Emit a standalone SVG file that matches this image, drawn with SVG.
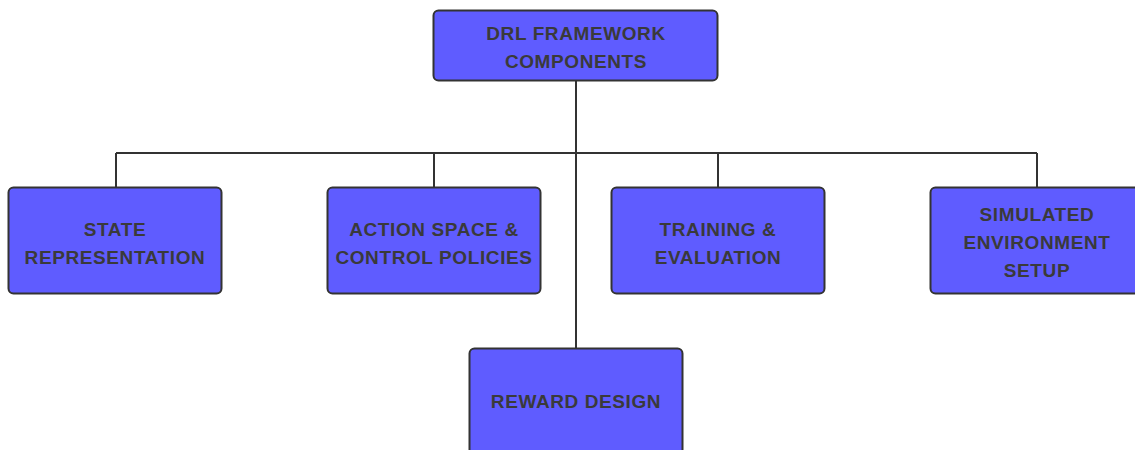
<svg xmlns="http://www.w3.org/2000/svg" width="1135" height="450" viewBox="0 0 1135 450">
  <style>
    .box { fill: #5f5cff; stroke: #333333; stroke-width: 2; }
    .lbl { font-family: "Liberation Sans", Arial, sans-serif; font-weight: bold; font-size: 19px; letter-spacing: 0.6px; fill: #3a3a3a; text-anchor: middle; dominant-baseline: central; }
    .edge { fill: none; stroke: #333333; stroke-width: 2; }
  </style>
  <rect width="1135" height="450" fill="#ffffff"/>

  <!-- connectors -->
  <g id="connectors">
    <path class="edge" d="M576 81 V348"/>
    <path class="edge" d="M116 153 H1037"/>
    <path class="edge" d="M116 153 V187"/>
    <path class="edge" d="M434 153 V187"/>
    <path class="edge" d="M718 153 V187"/>
    <path class="edge" d="M1037 153 V187"/>
  </g>

  <g id="root">
    <rect class="box" x="433.5" y="10.5" width="284" height="70" rx="5"/>
    <text class="lbl" x="576" y="33">DRL FRAMEWORK</text>
    <text class="lbl" x="576" y="61">COMPONENTS</text>
  </g>

  <g id="state">
    <rect class="box" x="8.5" y="187.5" width="213" height="106" rx="5"/>
    <text class="lbl" x="115" y="229">STATE</text>
    <text class="lbl" x="115" y="257">REPRESENTATION</text>
  </g>

  <g id="action">
    <rect class="box" x="327.5" y="187.5" width="213" height="106" rx="5"/>
    <text class="lbl" x="434" y="229">ACTION SPACE &amp;</text>
    <text class="lbl" x="434" y="257">CONTROL POLICIES</text>
  </g>

  <g id="training">
    <rect class="box" x="611.5" y="187.5" width="213" height="106" rx="5"/>
    <text class="lbl" x="718" y="229">TRAINING &amp;</text>
    <text class="lbl" x="718" y="257">EVALUATION</text>
  </g>

  <g id="simulation">
    <rect class="box" x="930.5" y="187.5" width="213" height="106" rx="5"/>
    <text class="lbl" x="1037" y="214">SIMULATED</text>
    <text class="lbl" x="1037" y="242">ENVIRONMENT</text>
    <text class="lbl" x="1037" y="270">SETUP</text>
  </g>

  <g id="reward">
    <rect class="box" x="469.5" y="348.5" width="213" height="106" rx="5"/>
    <text class="lbl" x="576" y="401">REWARD DESIGN</text>
  </g>
</svg>
